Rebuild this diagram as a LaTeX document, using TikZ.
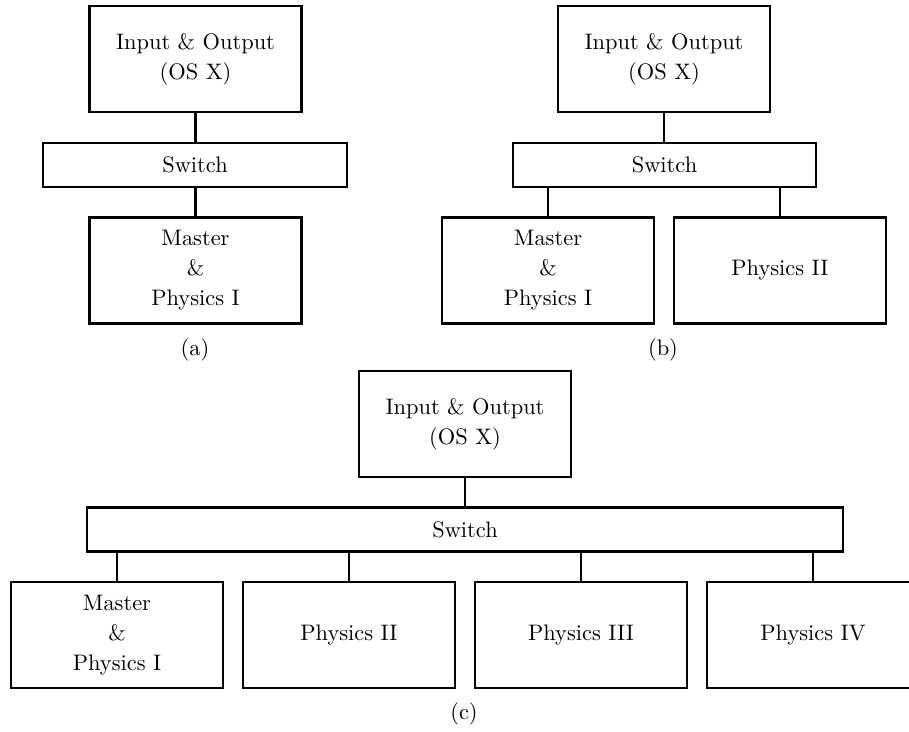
\documentclass[tikz,border=0pt]{standalone}
\usetikzlibrary{positioning}

\tikzset{
  box/.style={draw, line width=1pt, align=center, font=\fontsize{10}{13.4}\selectfont,
    minimum width=94.6pt, minimum height=47.3pt, inner sep=0pt},
  switchbox/.style={draw, line width=1pt, minimum height=19.6pt, inner sep=0pt},
  link/.style={line width=1pt}
}

\begin{document}
\begin{tikzpicture}[x=0.446pt, y=-0.446pt]

  % 画布（右侧方框被裁掉一部分）
  \clip (0,0) rectangle (909,731);

  % (a) 单机
  \node[box] (ioA) at (195.5,59) {Input \& Output\\(OS X)};
  \node[switchbox, minimum width=135.6pt] (swA) at (195,165) {Switch};
  \node[box] (mA) at (195.5,270.5) {Master\\\&\\Physics I};
  \draw[link] (ioA.south) -- (ioA.south |- swA.north);
  \draw[link] (mA.north |- swA.south) -- (mA.north);
  \node (capA) at (195,350) {(a)};

  % (b) 两台
  \node[box] (ioB) at (664,59) {Input \& Output\\(OS X)};
  \node[switchbox, minimum width=135.2pt] (swB) at (664.5,165) {Switch};
  \node[box] (mB) at (548,270.5) {Master\\\&\\Physics I};
  \node[box] (pB) at (780,270.5) {Physics II};
  \draw[link] (ioB.south) -- (ioB.south |- swB.north);
  \draw[link] (mB.north |- swB.south) -- (mB.north);
  \draw[link] (pB.north |- swB.south) -- (pB.north);
  \node (capB) at (663,350) {(b)};

  % (c) 四台
  \node[box] (ioC) at (465,424) {Input \& Output\\(OS X)};
  \node[switchbox, minimum width=337.2pt] (swC) at (465,529.5) {Switch};
  \draw[link] (ioC.south) -- (ioC.south |- swC.north);
  \foreach \x/\nm/\txt in {117/mC/{Master\\\&\\Physics I}, 349/pC2/{Physics II},
                           581/pC3/{Physics III}, 813/pC4/{Physics IV}}{
    \node[box] (\nm) at (\x,635) {\txt};
    \draw[link] (\nm.north |- swC.south) -- (\nm.north);
  }
  \node (capC) at (464,714) {(c)};

\end{tikzpicture}
\end{document}
